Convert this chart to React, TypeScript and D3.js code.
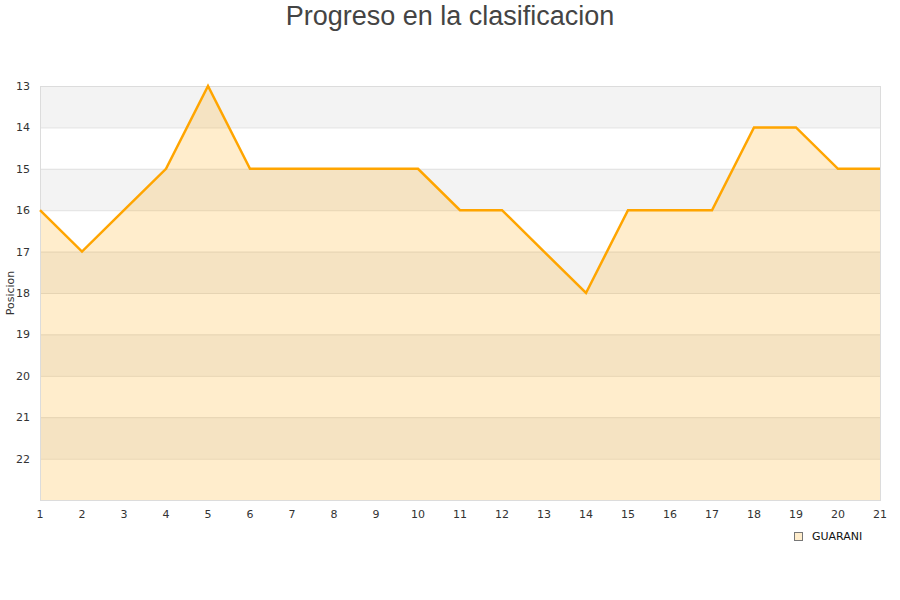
import { useEffect, useRef } from "react";
import * as d3 from "d3";

const rounds = [1, 2, 3, 4, 5, 6, 7, 8, 9, 10, 11, 12, 13, 14, 15, 16, 17, 18, 19, 20, 21];
const positions = [16, 17, 16, 15, 13, 15, 15, 15, 15, 15, 16, 16, 17, 18, 16, 16, 16, 14, 14, 15, 15];
const yTicks = [13, 14, 15, 16, 17, 18, 19, 20, 21, 22];
const teamName = "GUARANI";

export default function App() {
  const svgRef = useRef<SVGSVGElement>(null);

  useEffect(() => {
    if (!svgRef.current) return;
    const svg = d3.select(svgRef.current);
    svg.selectAll("*").remove();

    const left = 40, right = 880, top = 86, bottom = 500;
    const x = d3.scaleLinear().domain([1, 21]).range([left, right]);
    const y = d3.scaleLinear().domain([13, 23]).range([top, bottom]);

    // alternating bands
    const bands = d3.range(13, 23).filter((v) => (v - 13) % 2 === 0);
    svg.append("g")
      .selectAll("rect")
      .data(bands)
      .enter()
      .append("rect")
      .attr("x", left)
      .attr("width", right - left)
      .attr("y", (d) => y(d))
      .attr("height", (d) => y(d + 1) - y(d))
      .attr("fill", "#f3f3f3");

    // grid lines
    svg.append("g")
      .selectAll("line")
      .data(yTicks.slice(1))
      .enter()
      .append("line")
      .attr("x1", left)
      .attr("x2", right)
      .attr("y1", (d) => y(d) + 0.5)
      .attr("y2", (d) => y(d) + 0.5)
      .attr("stroke", "#e0e0e0");

    const data = rounds.map((r, i) => ({ r, p: positions[i] }));

    // area
    const area = d3.area<{ r: number; p: number }>()
      .x((d) => x(d.r))
      .y0(bottom)
      .y1((d) => y(d.p));
    svg.append("path")
      .datum(data)
      .attr("d", area)
      .attr("fill", "#ffa500")
      .attr("fill-opacity", 0.2);

    // plot border
    svg.append("rect")
      .attr("x", left + 0.5)
      .attr("y", top + 0.5)
      .attr("width", right - left)
      .attr("height", bottom - top)
      .attr("fill", "none")
      .attr("stroke", "#dcdcdc");

    // line
    const line = d3.line<{ r: number; p: number }>()
      .x((d) => x(d.r))
      .y((d) => y(d.p));
    svg.append("path")
      .datum(data)
      .attr("d", line)
      .attr("fill", "none")
      .attr("stroke", "#ffa500")
      .attr("stroke-width", 2.5)
      .attr("stroke-linejoin", "miter");

    // y tick labels
    svg.append("g")
      .selectAll("text")
      .data(yTicks)
      .enter()
      .append("text")
      .attr("x", 30)
      .attr("y", (d) => y(d) + 4)
      .attr("text-anchor", "end")
      .attr("font-family", "DejaVu Sans")
      .attr("font-size", 11)
      .attr("fill", "#333")
      .text((d) => d);

    // x tick labels
    svg.append("g")
      .selectAll("text")
      .data(rounds)
      .enter()
      .append("text")
      .attr("x", (d) => x(d))
      .attr("y", 518)
      .attr("text-anchor", "middle")
      .attr("font-family", "DejaVu Sans")
      .attr("font-size", 11)
      .attr("fill", "#333")
      .text((d) => d);

    // y axis title
    svg.append("text")
      .attr("transform", "translate(14,293) rotate(-90)")
      .attr("text-anchor", "middle")
      .attr("font-family", "DejaVu Sans")
      .attr("font-size", 11)
      .attr("fill", "#333")
      .text("Posicion");

    // title
    svg.append("text")
      .attr("x", 450)
      .attr("y", 25)
      .attr("text-anchor", "middle")
      .attr("font-family", "Liberation Sans, Arial, sans-serif")
      .attr("font-size", 27)
      .attr("fill", "#444")
      .text("Progreso en la clasificacion");

    // legend
    svg.append("rect")
      .attr("x", 794.5)
      .attr("y", 532.5)
      .attr("width", 8)
      .attr("height", 8)
      .attr("fill", "#ffedcc")
      .attr("stroke", "#777");
    svg.append("text")
      .attr("x", 812)
      .attr("y", 540)
      .attr("font-family", "DejaVu Sans")
      .attr("font-size", 11)
      .attr("fill", "#111")
      .text(teamName);
  }, []);

  return (
    <div style={{ position: "absolute", left: 0, top: 0 }}>
      <svg ref={svgRef} width={900} height={600} style={{ display: "block", background: "#fff" }} />
    </div>
  );
}
